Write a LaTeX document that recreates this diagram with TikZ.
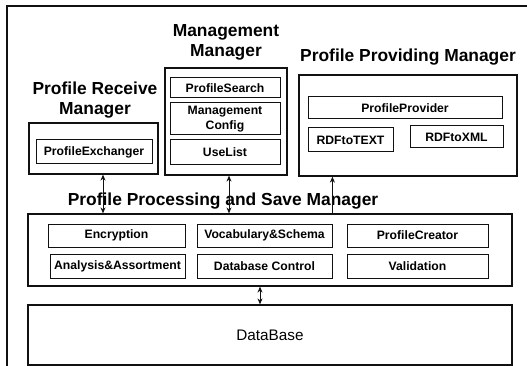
\documentclass[tikz,border=0pt]{standalone}
\usepackage{fontspec}
\setmainfont{Liberation Sans}
\usepackage{tikz}
\usetikzlibrary{calc,positioning,arrows.meta}
\definecolor{ink}{HTML}{111111}

\tikzset{
  mgrbox/.style={draw=ink, line width=1.2pt, inner sep=0pt},
  modbox/.style={draw=ink, line width=1pt, inner sep=0pt, align=center,
    font=\fontsize{12.2}{14}\selectfont\bfseries},
  mgrtitle/.style={align=center, inner sep=0pt,
    font=\fontsize{17.4}{20}\selectfont\bfseries},
  link/.style={line width=1pt, draw=ink, -{Stealth[length=6pt,width=5pt]}},
  dlink/.style={line width=1pt, draw=ink, {Stealth[length=6pt,width=5pt]}-{Stealth[length=6pt,width=5pt]}}
}

\begin{document}
\begin{tikzpicture}[x=1pt, y=-1pt]
  \useasboundingbox (0,0) rectangle (527,366);
  \draw[ink, line width=1.2pt] (7,6) rectangle (540,380);

  % upper managers
  \node[mgrbox, minimum width=129, minimum height=51] (recv) at (93.5,148.5) {};
  \node[mgrtitle] (recvttl) at (95,100) {Profile Receive\\Manager};
  \node[modbox, minimum width=116, minimum height=24] (exch) at (94,152) {ProfileExchanger};

  \node[mgrbox, minimum width=122, minimum height=107] (mgmt) at (226,121.5) {};
  \node[mgrtitle] (mgmtttl) at (226,42) {Management\\Manager};
  \node[modbox, minimum width=110, minimum height=20] (search) at (225,88) {ProfileSearch};
  \node[modbox, minimum width=110, minimum height=32] (config) at (225,119)
    {Management\\[1pt]Config};
  \node[modbox, minimum width=110, minimum height=25] (uselist) at (225,152.5) {UseList};

  \node[mgrbox, minimum width=218, minimum height=101] (prov) at (408,125.5) {};
  \node[mgrtitle] (provttl) at (408,57) {Profile Providing Manager};
  \node[modbox, minimum width=194, minimum height=22] (provider) at (405,108) {ProfileProvider};
  \node[modbox, minimum width=85, minimum height=24] (totext) at (350.5,140) {RDFtoTEXT};
  \node[modbox, minimum width=93, minimum height=22] (toxml) at (456.5,137) {RDFtoXML};

  % processing and save manager
  \node[mgrbox, minimum width=484, minimum height=72] (ppsm) at (270,250) {};
  \node[mgrtitle] (ppsmttl) at (223,201) {Profile Processing and Save Manager};
  \node[modbox, minimum width=137, minimum height=23] (encr) at (116.5,235.5) {Encryption};
  \node[modbox, minimum width=135, minimum height=23] (vocab) at (264.5,235.5) {Vocabulary\&Schema};
  \node[modbox, minimum width=141, minimum height=23] (creator) at (417.5,235.5) {ProfileCreator};
  \node[modbox, minimum width=135, minimum height=24] (anal) at (117.5,266) {Analysis\&Assortment};
  \node[modbox, minimum width=135, minimum height=24] (dbctl) at (264.5,266) {Database Control};
  \node[modbox, minimum width=141, minimum height=24] (valid) at (417.5,266) {Validation};

  % storage
  \node[mgrbox, minimum width=484, minimum height=60,
    font=\fontsize{15.3}{17}\selectfont] (db) at (270,335) {DataBase};

  % connectors
  \draw[dlink] ([xshift=9.5]recv.south |- ppsm.north) -- ([xshift=9.5]recv.south);
  \draw[dlink] ([xshift=3]mgmt.south |- ppsm.north) -- ([xshift=3]mgmt.south);
  \draw[link] ([xshift=34]prov.south west |- ppsm.north) -- ([xshift=34]prov.south west);
  \draw[dlink] ([xshift=-10]ppsm.south) -- ([xshift=-10]db.north);
\end{tikzpicture}
\end{document}
